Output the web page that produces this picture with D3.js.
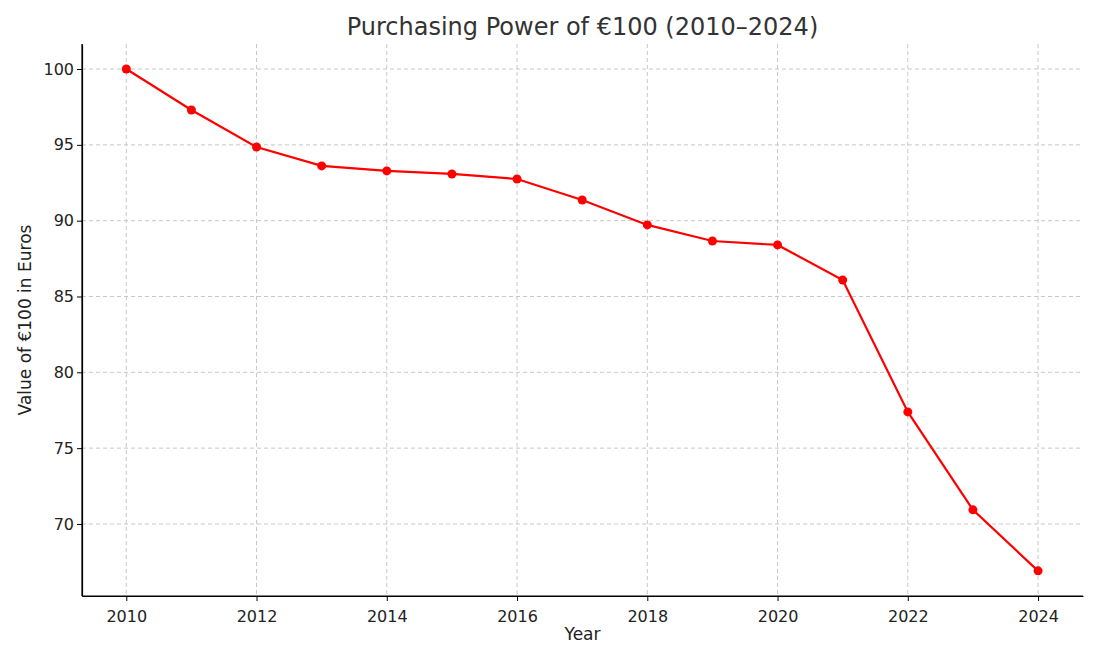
<!DOCTYPE html>
<html><head><meta charset="utf-8">
<script src="https://cdn.jsdelivr.net/npm/d3@7"></script>
<style>body{margin:0;background:#fff;font-family:"DejaVu Sans",sans-serif;}</style>
</head><body><svg id="c" width="1100" height="660"></svg>
<script>
const years = [2010,2011,2012,2013,2014,2015,2016,2017,2018,2019,2020,2021,2022,2023,2024];
const values = [100,97.3,94.86,93.61,93.28,93.08,92.75,91.36,89.72,88.66,88.4,86.09,77.39,70.93,66.91];
const xTicks = [2010,2012,2014,2016,2018,2020,2022,2024];
const yTicks = [70,75,80,85,90,95,100];

const svg = d3.select("#c");
const L=82,R=1083,T=44,B=596;
const x = d3.scaleLinear().domain([2009.32,2024.69]).range([L,R]);
const y = d3.scaleLinear().domain([65.25,101.65]).range([B,T]);

const grid = svg.append("g").attr("stroke","#c8c8c8").attr("stroke-dasharray","4,3").attr("stroke-width",1);
xTicks.forEach(t=>grid.append("line").attr("x1",x(t)).attr("x2",x(t)).attr("y1",T).attr("y2",B));
yTicks.forEach(t=>grid.append("line").attr("x1",L).attr("x2",R).attr("y1",y(t)).attr("y2",y(t)));

const xa = svg.append("g").attr("transform",`translate(0,${B})`)
  .call(d3.axisBottom(x).tickValues(xTicks).tickFormat(d3.format("d")).tickSize(5).tickSizeOuter(0));
const ya = svg.append("g").attr("transform",`translate(${L},0)`)
  .call(d3.axisLeft(y).tickValues(yTicks).tickSize(5).tickSizeOuter(0));
[xa,ya].forEach(a=>{a.selectAll("text").attr("font-size",16).attr("fill","#222").attr("font-family","DejaVu Sans");
  a.select(".domain").attr("stroke","#000").attr("stroke-width",1.2);});
xa.selectAll("text").attr("dy","1.1em");
svg.append("line").attr("x1",L).attr("x2",L).attr("y1",T).attr("y2",B).attr("stroke","#000").attr("stroke-width",1.2);
svg.append("line").attr("x1",L).attr("x2",R).attr("y1",B).attr("y2",B).attr("stroke","#000").attr("stroke-width",1.2);

const line = d3.line().x((d,i)=>x(years[i])).y(d=>y(d));
svg.append("path").datum(values).attr("d",line).attr("fill","none").attr("stroke","#ff0000").attr("stroke-width",2.2);
svg.selectAll("circle.p").data(values).enter().append("circle")
  .attr("cx",(d,i)=>x(years[i])).attr("cy",d=>y(d)).attr("r",4.5).attr("fill","#ff0000");

svg.append("text").attr("x",(L+R)/2).attr("y",35).attr("text-anchor","middle").attr("font-size",24).attr("fill","#333").text("Purchasing Power of €100 (2010–2024)");
svg.append("text").attr("x",(L+R)/2).attr("y",640).attr("text-anchor","middle").attr("font-size",17).attr("fill","#222").text("Year");
svg.append("text").attr("transform",`translate(31,${(T+B)/2}) rotate(-90)`).attr("text-anchor","middle").attr("font-size",17).attr("fill","#222").text("Value of €100 in Euros");
</script></body></html>
